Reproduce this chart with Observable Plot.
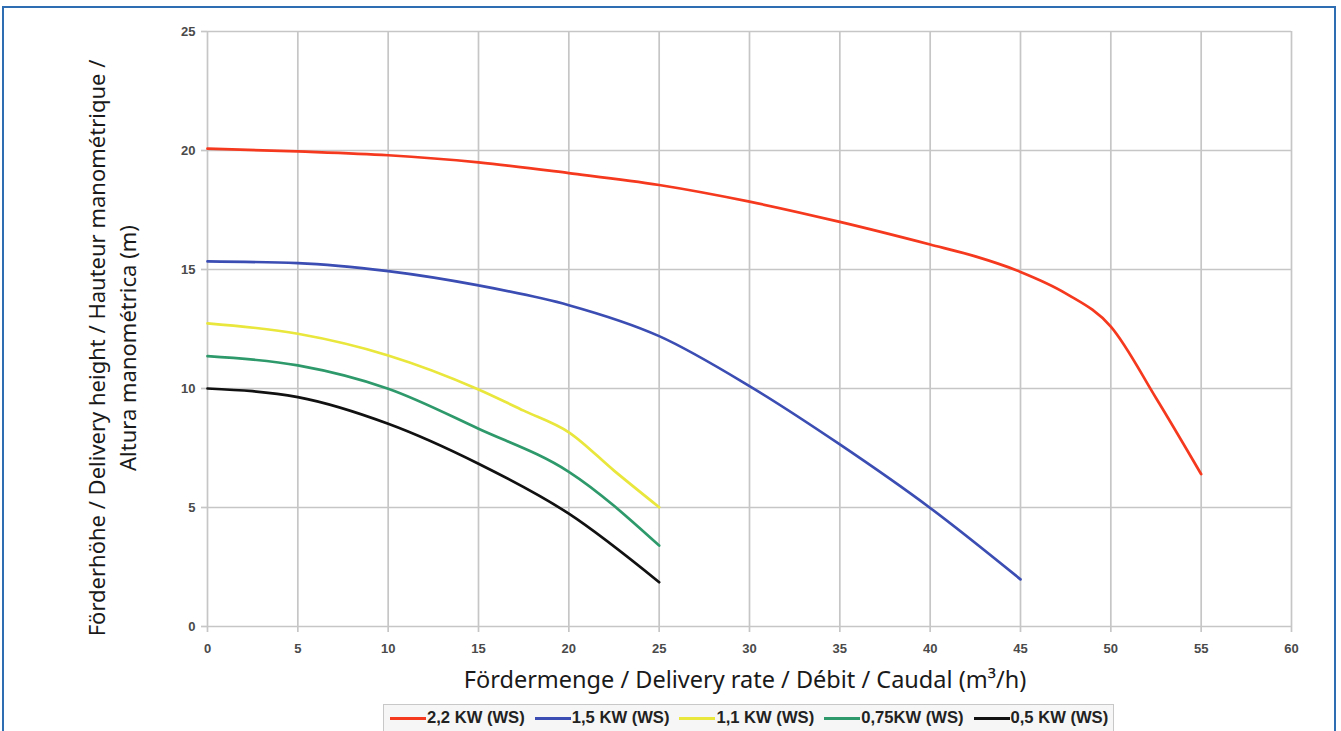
<!DOCTYPE html>
<html>
<head>
<meta charset="utf-8">
<script src="https://cdn.jsdelivr.net/npm/d3@7"></script>
<script src="https://cdn.jsdelivr.net/npm/@observablehq/plot@0.6"></script>
<style>
  html, body { margin: 0; padding: 0; background: #fff; width: 1341px; height: 731px; overflow: hidden; }
  #frame { position: absolute; left: 2px; top: 6px; width: 1334px; height: 760px; border: 2px solid #2f6db3; box-sizing: border-box; }
  #chart { position: absolute; left: 0; top: 0; }
  #xlabel { position: absolute; left: 0; width: 1490px; top: 663px; text-align: center; font-family: "Noto Sans", sans-serif; font-size: 23.5px; color: #1a1a1a; white-space: nowrap; }
  #ylabel { position: absolute; left: 112px; top: 348px; transform: translate(-50%, -50%) rotate(-90deg); text-align: center; font-family: "Noto Sans", sans-serif; font-size: 22px; line-height: 31px; color: #1a1a1a; white-space: nowrap; }
  #legend { position: absolute; left: 383px; top: 704px; width: 731px; height: 28px; border: 1px solid #c8c8c8; background: #f6f6f6; box-sizing: border-box; display: flex; align-items: center; justify-content: flex-start; gap: 10px; padding-left: 6px; font-family: "Liberation Sans", Arial, sans-serif; font-size: 16.6px; font-weight: bold; color: #222; }
  .item { display: flex; align-items: center; }
  .sw { display: inline-block; width: 36px; height: 3px; margin-right: 1px; }
</style>
</head>
<body>
<div id="frame"></div>
<div id="chart"></div>
<div id="xlabel"></div>
<div id="ylabel"></div>
<div id="legend"></div>
<script>
// Series names
const seriesNames = ["2,2 KW (WS)", "1,5 KW (WS)", "1,1 KW (WS)", "0,75KW (WS)", "0,5 KW (WS)"];
const seriesColors = ["#f5391f", "#3b4db3", "#e9e63c", "#2e9a6b", "#111111"];

// 2,2 KW
const xRed = [0, 5, 10, 15, 20, 25, 30, 35, 40, 42.5, 45, 47.5, 50, 52.5, 55];
const yRed = [20.08, 19.96, 19.8, 19.5, 19.05, 18.55, 17.85, 17.0, 16.05, 15.55, 14.9, 14.0, 12.6, 9.6, 6.4];
// 1,5 KW
const xBlue = [0, 5, 10, 15, 20, 25, 30, 35, 40, 45];
const yBlue = [15.34, 15.27, 14.93, 14.33, 13.5, 12.2, 10.1, 7.65, 4.98, 1.98];
// 1,1 KW
const xYellow = [0, 5, 10, 15, 17.5, 20, 22.5, 25];
const yYellow = [12.74, 12.3, 11.39, 9.96, 9.07, 8.16, 6.55, 5.01];
// 0,75 KW
const xGreen = [0, 5, 10, 15, 20, 25];
const yGreen = [11.36, 10.97, 9.99, 8.31, 6.5, 3.4];
// 0,5 KW
const xBlack = [0, 5, 10, 15, 20, 25];
const yBlack = [10.0, 9.64, 8.52, 6.84, 4.74, 1.86];

const xTicks = [0, 5, 10, 15, 20, 25, 30, 35, 40, 45, 50, 55, 60];
const yTicks = [0, 5, 10, 15, 20, 25];

const xTitle = "Fördermenge / Delivery rate / Débit / Caudal (m³/h)";
const yTitle1 = "Förderhöhe / Delivery height / Hauteur manométrique /";
const yTitle2 = "Altura manométrica (m)";

const seriesX = [xRed, xBlue, xYellow, xGreen, xBlack];
const seriesY = [yRed, yBlue, yYellow, yGreen, yBlack];
const rows = seriesNames.flatMap((name, i) => seriesX[i].map((x, j) => ({series: name, x, y: seriesY[i][j]})));

const gridColor = "#c6c6c6";
const plot = Plot.plot({
  width: 1341,
  height: 668,
  marginLeft: 207,
  marginRight: 50,
  marginTop: 31,
  marginBottom: 42,
  style: { fontFamily: "Liberation Sans, Arial, sans-serif", fontSize: "13px", fontWeight: "bold", color: "#4a4a4a", background: "transparent" },
  x: { domain: [0, 60] },
  y: { domain: [0, 25] },
  color: { domain: seriesNames, range: seriesColors },
  marks: [
    Plot.gridX(xTicks, { stroke: gridColor, strokeOpacity: 1, strokeWidth: 1.7 }),
    Plot.gridY(yTicks, { stroke: gridColor, strokeOpacity: 1, strokeWidth: 1.7 }),
    Plot.axisX({ ticks: xTicks, tickSize: 6, tickPadding: 11, stroke: gridColor, strokeWidth: 1.7, label: null, tickFormat: d => String(d) }),
    Plot.axisY({ ticks: yTicks, tickSize: 6, tickPadding: 6, stroke: gridColor, strokeWidth: 1.7, label: null, tickFormat: d => String(d) }),
    Plot.line(rows, { x: "x", y: "y", z: "series", stroke: "series", strokeWidth: 2.7, curve: "monotone-x" })
  ]
});
document.getElementById("chart").appendChild(plot);

document.getElementById("xlabel").textContent = xTitle;
document.getElementById("ylabel").innerHTML = yTitle1 + "<br>" + yTitle2;

const legend = document.getElementById("legend");
seriesNames.forEach((name, i) => {
  const item = document.createElement("span");
  item.className = "item";
  const sw = document.createElement("span");
  sw.className = "sw";
  sw.style.background = seriesColors[i];
  item.appendChild(sw);
  item.appendChild(document.createTextNode(name));
  legend.appendChild(item);
});
</script>
</body>
</html>
